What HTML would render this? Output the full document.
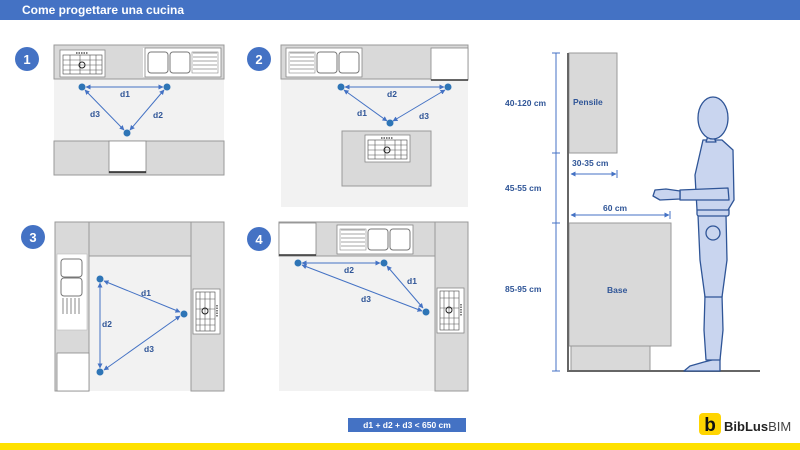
<!DOCTYPE html>
<html><head><meta charset="utf-8"><style>
html,body{margin:0;padding:0;background:#fff;}
svg{display:block;font-family:"Liberation Sans",sans-serif;}
</style></head><body>
<svg width="800" height="450" viewBox="0 0 800 450" xmlns="http://www.w3.org/2000/svg">
<defs>
<marker id="ar" viewBox="0 0 10 10" refX="9" refY="5" markerWidth="5" markerHeight="5" orient="auto-start-reverse"><path d="M0,0 L10,5 L0,10 z" fill="#4472C4"/></marker>
<g id="stove">
<rect x="0" y="0" width="45" height="27" fill="#fff" stroke="#888" stroke-width="0.8"/>
<rect x="3" y="5" width="39" height="19" fill="none" stroke="#444" stroke-width="0.6"/>
<path d="M3,10H42M3,15H42M3,20H42M10,5V24M20,5V24M30,5V24M36,5V24" stroke="#555" stroke-width="0.6"/>
<circle cx="22" cy="15" r="3" fill="none" stroke="#222"/>
<path d="M16,3H28" stroke="#333" stroke-dasharray="1.5 1" stroke-width="1.2"/>
</g>
<g id="sink">
<rect x="0" y="0" width="76" height="29" fill="#fff" stroke="#888" stroke-width="0.8"/>
<rect x="3" y="4" width="20" height="21" rx="3" fill="#fff" stroke="#777"/>
<rect x="25" y="4" width="20" height="21" rx="3" fill="#fff" stroke="#777"/>
<path d="M48,5H72M48,9H72M48,13H72M48,17H72M48,21H72" stroke="#888" stroke-width="0.8"/>
<rect x="47" y="4" width="26" height="21" fill="none" stroke="#888" stroke-width="0.6"/>
</g>
</defs>
<rect x="0" y="0" width="800" height="20" fill="#4472C4"/>
<text x="22" y="14" fill="#fff" font-size="12" font-weight="bold">Come progettare una cucina</text>
<rect x="0" y="443" width="800" height="7" fill="#FFE100"/>

<g font-size="8.5" font-weight="bold" fill="#2F5597" text-anchor="middle">
<!-- Panel 1 -->
<rect x="54" y="79" width="170" height="62" fill="#f2f2f2"/>
<rect x="54" y="45" width="170" height="34" fill="#d9d9d9" stroke="#999"/>
<rect x="54" y="141" width="170" height="34" fill="#d9d9d9" stroke="#999"/>
<use href="#stove" x="60" y="50"/>
<rect x="143" y="48" width="77" height="29" fill="#fff"/>
<use href="#sink" x="145" y="48"/>
<rect x="109" y="141" width="37" height="32" fill="#fff" stroke="#888" stroke-width="0.8"/>
<path d="M109,172H146" stroke="#222" stroke-width="1.5"/>
<circle cx="27" cy="59" r="12" fill="#4472C4"/><text x="27" y="64" fill="#fff" font-size="13">1</text>
<g stroke="#4472C4" stroke-width="1" marker-start="url(#ar)" marker-end="url(#ar)">
<line x1="86" y1="87" x2="163" y2="87"/><line x1="85" y1="90" x2="124" y2="130"/><line x1="164" y1="90" x2="130" y2="130"/></g>
<g fill="#2E75B6"><circle cx="82" cy="87" r="3.5"/><circle cx="167" cy="87" r="3.5"/><circle cx="127" cy="133" r="3.5"/></g>
<text x="125" y="97">d1</text><text x="95" y="117">d3</text><text x="158" y="118">d2</text>

<!-- Panel 2 -->
<rect x="281" y="45" width="187" height="162" fill="#f2f2f2"/>
<rect x="281" y="45" width="187" height="34" fill="#d9d9d9" stroke="#999"/>
<use href="#sink" x="301" y="48" transform="translate(663,0) scale(-1,1)"/>
<rect x="431" y="48" width="37" height="32" fill="#fff" stroke="#888" stroke-width="0.8"/>
<path d="M431,80H468" stroke="#333" stroke-width="1.5"/>
<rect x="342" y="131" width="89" height="55" fill="#d9d9d9" stroke="#999"/>
<use href="#stove" x="365" y="135"/>
<circle cx="259" cy="59" r="12" fill="#4472C4"/><text x="259" y="64" fill="#fff" font-size="13">2</text>
<g stroke="#4472C4" stroke-width="1" marker-start="url(#ar)" marker-end="url(#ar)">
<line x1="345" y1="87" x2="444" y2="87"/><line x1="344" y1="90" x2="387" y2="121"/><line x1="445" y1="90" x2="393" y2="121"/></g>
<g fill="#2E75B6"><circle cx="341" cy="87" r="3.5"/><circle cx="448" cy="87" r="3.5"/><circle cx="390" cy="123" r="3.5"/></g>
<text x="392" y="97">d2</text><text x="362" y="116">d1</text><text x="424" y="119">d3</text>

<!-- Panel 3 -->
<rect x="89" y="256" width="102" height="135" fill="#f2f2f2"/>
<rect x="55" y="222" width="34" height="169" fill="#d9d9d9" stroke="#999"/>
<rect x="89" y="222" width="102" height="34" fill="#d9d9d9" stroke="#999"/>
<rect x="191" y="222" width="33" height="169" fill="#d9d9d9" stroke="#999"/>
<rect x="57" y="254" width="30" height="76" fill="#fff" stroke="#bbb" stroke-width="0.6"/>
<rect x="61" y="259" width="21" height="18" rx="3" fill="#fff" stroke="#777"/>
<rect x="61" y="278" width="21" height="18" rx="3" fill="#fff" stroke="#777"/>
<path d="M63,298V314M67,298V314M71,298V314M75,298V314M79,298V314" stroke="#888"/>
<rect x="57" y="353" width="32" height="38" fill="#fff" stroke="#888" stroke-width="0.8"/>
<use href="#stove" transform="translate(220,289) rotate(90)"/>
<circle cx="33" cy="237" r="12" fill="#4472C4"/><text x="33" y="242" fill="#fff" font-size="13">3</text>
<g stroke="#4472C4" stroke-width="1" marker-start="url(#ar)" marker-end="url(#ar)">
<line x1="104" y1="281" x2="180" y2="312"/><line x1="100" y1="283" x2="100" y2="368"/><line x1="104" y1="370" x2="180" y2="316"/></g>
<g fill="#2E75B6"><circle cx="100" cy="279" r="3.5"/><circle cx="184" cy="314" r="3.5"/><circle cx="100" cy="372" r="3.5"/></g>
<text x="146" y="296">d1</text><text x="107" y="327">d2</text><text x="149" y="352">d3</text>

<!-- Panel 4 -->
<rect x="279" y="256" width="156" height="135" fill="#f2f2f2"/>
<rect x="279" y="222" width="156" height="34" fill="#d9d9d9" stroke="#999"/>
<rect x="435" y="222" width="33" height="169" fill="#d9d9d9" stroke="#999"/>
<rect x="279" y="223" width="37" height="33" fill="#fff" stroke="#888" stroke-width="0.8"/>
<path d="M279,255H316" stroke="#333" stroke-width="1.5"/>
<use href="#sink" transform="translate(413,225) scale(-1,1)"/>
<use href="#stove" transform="translate(464,288) rotate(90)"/>
<circle cx="259" cy="239" r="12" fill="#4472C4"/><text x="259" y="244" fill="#fff" font-size="13">4</text>
<g stroke="#4472C4" stroke-width="1" marker-start="url(#ar)" marker-end="url(#ar)">
<line x1="302" y1="263" x2="380" y2="263"/><line x1="387" y1="266" x2="423" y2="308"/><line x1="302" y1="265" x2="422" y2="311"/></g>
<g fill="#2E75B6"><circle cx="298" cy="263" r="3.5"/><circle cx="384" cy="263" r="3.5"/><circle cx="426" cy="312" r="3.5"/></g>
<text x="349" y="273">d2</text><text x="412" y="284">d1</text><text x="366" y="302">d3</text>

<rect x="348" y="418" width="118" height="14" fill="#4472C4"/>
<text x="407" y="428" fill="#fff" font-size="8.5">d1 + d2 + d3 &lt; 650 cm</text>
</g>

<!-- Right elevation -->
<g font-size="8.5" font-weight="bold" fill="#2F5597">
<rect x="569" y="53" width="48" height="100" fill="#d9d9d9" stroke="#999"/>
<rect x="569" y="223" width="102" height="123" fill="#d9d9d9" stroke="#999"/>
<rect x="571" y="346" width="79" height="25" fill="#d9d9d9" stroke="#999"/>
<path d="M568,53V371H760" stroke="#666" stroke-width="2" fill="none"/>
<g stroke="#4472C4" stroke-width="1">
<line x1="556" y1="53" x2="556" y2="371"/>
<path d="M552,53H560M552,153H560M552,223H560M552,371H560"/>
<line x1="571" y1="174" x2="616" y2="174" marker-start="url(#ar)" marker-end="url(#ar)"/>
<line x1="571" y1="215" x2="669" y2="215" marker-start="url(#ar)" marker-end="url(#ar)"/>
<path d="M617,170V178M670,211V219"/>
</g>
<text x="505" y="106">40-120 cm</text>
<text x="505" y="191">45-55 cm</text>
<text x="505" y="292">85-95 cm</text>
<text x="573" y="105">Pensile</text>
<text x="607" y="293">Base</text>
<text x="572" y="166">30-35 cm</text>
<text x="603" y="211">60 cm</text>
</g>

<!-- Human figure -->
<g fill="#c9d5ef" stroke="#2F5597" stroke-width="1.3" stroke-linejoin="round">
<path d="M704,362 L690,366 L684,371 L720,371 L720,358 Z"/>
<path d="M705,295 L722,295 L723,330 L720,360 L706,360 L704,330 Z"/>
<path d="M698,215 L726,215 L727,260 L722,297 L705,297 L700,260 Z"/>
<circle cx="713" cy="233" r="7" fill="#c9d5ef"/>
<rect x="697" y="208" width="32" height="8" rx="2"/>
<path d="M703,140 L722,140 L733,150 L734,200 L728,210 L697,210 L695,175 Z"/>
<path d="M710,130 L706,142 L716,142 Z"/>
<ellipse cx="713" cy="118" rx="15" ry="21"/>
<path d="M680,190 L728,188 L729,200 L680,200 Z"/>
<path d="M680,191 L666,189 L655,190 L653,196 L660,200 L680,199 Z"/>
</g>

<!-- Logo -->
<rect x="699" y="413" width="22" height="22" rx="4" fill="#FFD500"/>
<text x="710" y="431" font-size="19" font-weight="bold" fill="#111" text-anchor="middle">b</text>
<text x="724" y="431" font-size="13" fill="#222"><tspan font-weight="bold">BibLus</tspan><tspan fill="#444">BIM</tspan></text>
</svg>
</body></html>
